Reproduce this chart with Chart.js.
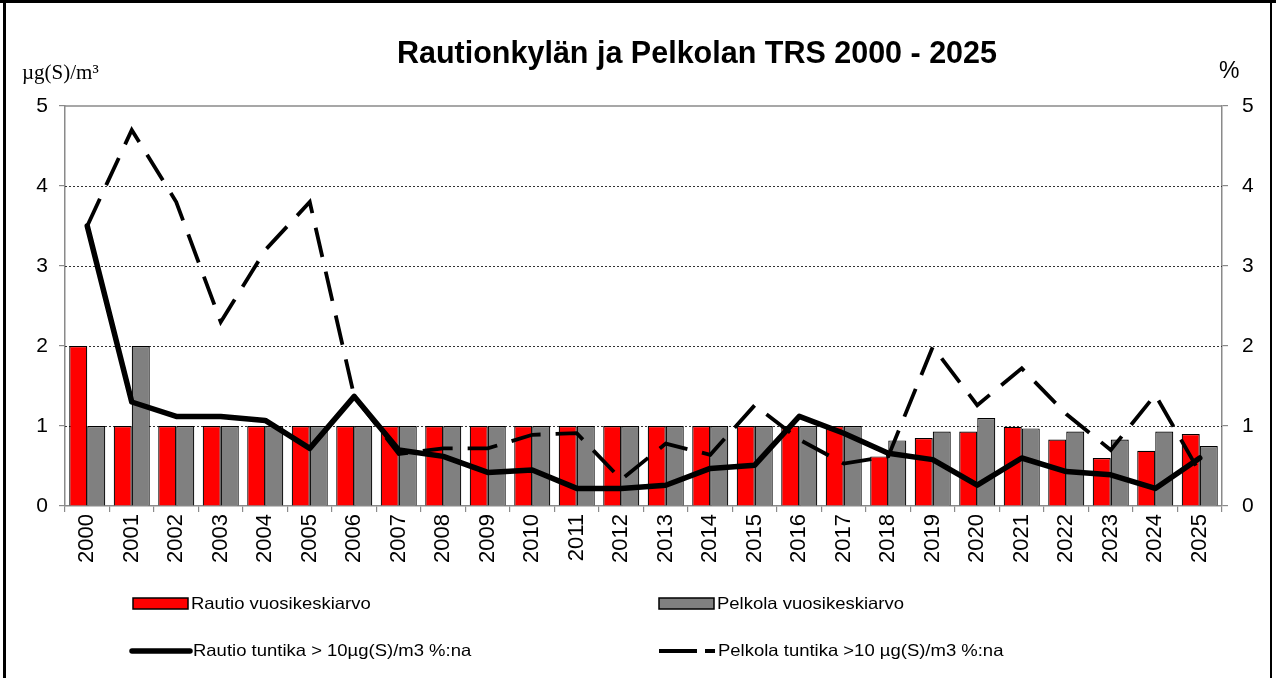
<!DOCTYPE html>
<html>
<head>
<meta charset="utf-8">
<script src="https://cdn.jsdelivr.net/npm/chart.js@4.4.1/dist/chart.umd.min.js"></script>
<style>
  html, body { margin: 0; padding: 0; background: #fff; }
  #wrap { width: 1276px; height: 678px; }
</style>
</head>
<body>
<div id="wrap"><canvas id="c" width="1276" height="678"></canvas></div>
<script>
const titleText = 'Rautionkylän ja Pelkolan TRS 2000 - 2025';
const leftUnit = 'µg(S)/m³';
const rightUnit = '%';
const years = ['2000','2001','2002','2003','2004','2005','2006','2007','2008','2009','2010','2011','2012',
               '2013','2014','2015','2016','2017','2018','2019','2020','2021','2022','2023','2024','2025'];
const yTicks = [0, 1, 2, 3, 4, 5];
const seriesLabels = ['Rautio vuosikeskiarvo', 'Pelkola vuosikeskiarvo',
                      'Rautio tuntika > 10µg(S)/m3 %:na', 'Pelkola tuntika >10 µg(S)/m3 %:na'];
const rautioAvg   = [2.0,1.0,1.0,1.0,1.0,1.0,1.0,1.0,1.0,1.0,1.0,1.0,1.0,1.0,1.0,1.0,1.0,1.0,0.62,0.85,0.93,0.99,0.83,0.60,0.69,0.90];
const pelkolaAvg  = [1.0,2.0,1.0,1.0,1.0,1.0,1.0,1.0,1.0,1.0,1.0,1.0,1.0,1.0,1.0,1.0,1.0,1.0,0.82,0.93,1.10,0.97,0.93,0.83,0.93,0.75];
const rautioPct   = [3.5,1.3,1.12,1.12,1.07,0.72,1.37,0.70,0.62,0.42,0.45,0.22,0.22,0.26,0.47,0.51,1.12,0.91,0.66,0.58,0.26,0.60,0.43,0.39,0.22,0.60];
const pelkolaPct  = [3.5,4.7,3.8,2.3,3.2,3.8,1.37,0.65,0.72,0.72,0.89,0.91,0.33,0.78,0.64,1.26,0.83,0.53,0.62,1.99,1.26,1.72,1.15,0.70,1.39,0.42];

const RED = '#ff0000', GRAY = '#808080', AXIS = '#8a8a8a';

function wideText(ctx, text, x, y, sx) {
  ctx.save();
  ctx.translate(x, y);
  ctx.scale(sx, 1);
  ctx.fillText(text, 0, 0);
  ctx.restore();
}

const decor = {
  id: 'decor',
  beforeDatasetsDraw(chart) {
    const { ctx, chartArea: a, scales: { y } } = chart;
    ctx.save();
    ctx.lineWidth = 1;
    ctx.strokeStyle = '#333';
    ctx.setLineDash([2, 2]);
    yTicks.slice(1, -1).forEach(v => {
      const py = Math.round(y.getPixelForValue(v)) + 0.5;
      ctx.beginPath(); ctx.moveTo(a.left, py); ctx.lineTo(a.right, py); ctx.stroke();
    });
    ctx.setLineDash([]);
    ctx.strokeStyle = AXIS;
    ctx.lineWidth = 1.5;
    const pt = y.getPixelForValue(yTicks[yTicks.length - 1]);
    ctx.beginPath(); ctx.moveTo(a.left, pt); ctx.lineTo(a.right, pt); ctx.stroke();
    ctx.restore();
  },
  afterDraw(chart) {
    const ctx = chart.ctx;
    ctx.save();
    // title
    ctx.fillStyle = '#000';
    ctx.font = 'bold 32px "Liberation Sans", Arial, sans-serif';
    ctx.textBaseline = 'alphabetic';
    ctx.textAlign = 'left';
    const tw = ctx.measureText(titleText).width;
    wideText(ctx, titleText, 397, 63, 600 / tw);
    // units
    ctx.font = '21px "Liberation Serif", "Times New Roman", serif';
    ctx.fillText(leftUnit, 22, 79);
    ctx.font = '23px "Liberation Sans", Arial, sans-serif';
    ctx.fillText(rightUnit, 1219, 78);

    // legend
    const ds = chart.data.datasets;
    const lsx = 1.12;
    ctx.font = '16.5px "Liberation Sans", Arial, sans-serif';
    ctx.textBaseline = 'middle';
    const boxes = [[133, 598, ds[0]], [659, 598, ds[1]]];
    boxes.forEach(([x, yy, d]) => {
      ctx.fillStyle = d.backgroundColor;
      ctx.fillRect(x, yy, 55, 11);
      ctx.strokeStyle = '#000';
      ctx.lineWidth = 1.5;
      ctx.strokeRect(x, yy, 55, 11);
      ctx.fillStyle = '#000';
      wideText(ctx, d.label, x + 58, yy + 6, lsx);
    });
    ctx.lineCap = 'round';
    ctx.strokeStyle = ds[2].borderColor;
    ctx.lineWidth = 5.5;
    ctx.beginPath(); ctx.moveTo(132, 651); ctx.lineTo(190, 651); ctx.stroke();
    wideText(ctx, ds[2].label, 193, 651, lsx);
    ctx.lineCap = 'butt';
    ctx.lineWidth = 4;
    ctx.strokeStyle = ds[3].borderColor;
    ctx.beginPath(); ctx.moveTo(659, 651); ctx.lineTo(697, 651); ctx.stroke();
    ctx.beginPath(); ctx.moveTo(705, 651); ctx.lineTo(715, 651); ctx.stroke();
    wideText(ctx, ds[3].label, 718, 651, lsx);

    // outer frame
    ctx.strokeStyle = '#000';
    ctx.lineWidth = 3;
    ctx.beginPath(); ctx.moveTo(4.5, 0); ctx.lineTo(4.5, 678); ctx.stroke();
    ctx.beginPath(); ctx.moveTo(0, 1.5); ctx.lineTo(1276, 1.5); ctx.stroke();
    ctx.lineWidth = 2;
    ctx.beginPath(); ctx.moveTo(1271, 0); ctx.lineTo(1271, 678); ctx.stroke();
    ctx.restore();
  }
};

const tickFont = { family: '"Liberation Sans", Arial, sans-serif', size: 21 };

new Chart(document.getElementById('c'), {
  type: 'bar',
  data: {
    labels: years,
    datasets: [
      { type: 'bar', label: seriesLabels[0], data: rautioAvg, backgroundColor: RED, borderColor: '#000',
        borderWidth: 1.2, yAxisID: 'y', order: 2, barPercentage: 1.0, categoryPercentage: 0.81 },
      { type: 'bar', label: seriesLabels[1], data: pelkolaAvg, backgroundColor: GRAY, borderColor: '#000',
        borderWidth: 1.2, yAxisID: 'y', order: 2, barPercentage: 1.0, categoryPercentage: 0.81 },
      { type: 'line', label: seriesLabels[2], data: rautioPct, borderColor: '#000', borderWidth: 5.5,
        pointRadius: 0, tension: 0, fill: false, yAxisID: 'y2', order: 1, borderJoinStyle: 'round', borderCapStyle: 'round' },
      { type: 'line', label: seriesLabels[3], data: pelkolaPct, borderColor: '#000', borderWidth: 3.8,
        borderDash: [30, 15], pointRadius: 0, tension: 0, fill: false, yAxisID: 'y2', order: 1, borderJoinStyle: 'miter' }
    ]
  },
  options: {
    responsive: false,
    animation: false,
    devicePixelRatio: 1,
    layout: { padding: { top: 106, bottom: 112, left: 0, right: 0 } },
    plugins: { legend: { display: false }, tooltip: { enabled: false }, title: { display: false } },
    scales: {
      x: {
        offset: true,
        grid: { offset: true, drawOnChartArea: false, drawTicks: true, tickLength: 6, color: AXIS, lineWidth: 1.2 },
        border: { display: true, color: AXIS, width: 1.5 },
        ticks: { autoSkip: false, minRotation: 90, maxRotation: 90, padding: 2, color: '#000',
                 font: { family: '"Liberation Sans", Arial, sans-serif', size: 22 } },
        afterFit(s) { s.height = 60; }
      },
      y: {
        position: 'left', min: 0, max: 5,
        ticks: { stepSize: 1, padding: 11, color: '#000', font: tickFont },
        grid: { drawOnChartArea: false, drawTicks: true, tickLength: 6, color: AXIS, lineWidth: 1.2 },
        border: { display: true, color: AXIS, width: 1.5 },
        afterFit(s) { s.width = 65; }
      },
      y2: {
        position: 'right', min: 0, max: 5,
        ticks: { stepSize: 1, padding: 14, color: '#000', font: tickFont },
        grid: { drawOnChartArea: false, drawTicks: true, tickLength: 6, color: AXIS, lineWidth: 1.2 },
        border: { display: true, color: AXIS, width: 1.5 },
        afterFit(s) { s.width = 54; }
      }
    }
  },
  plugins: [decor]
});
</script>
</body>
</html>
